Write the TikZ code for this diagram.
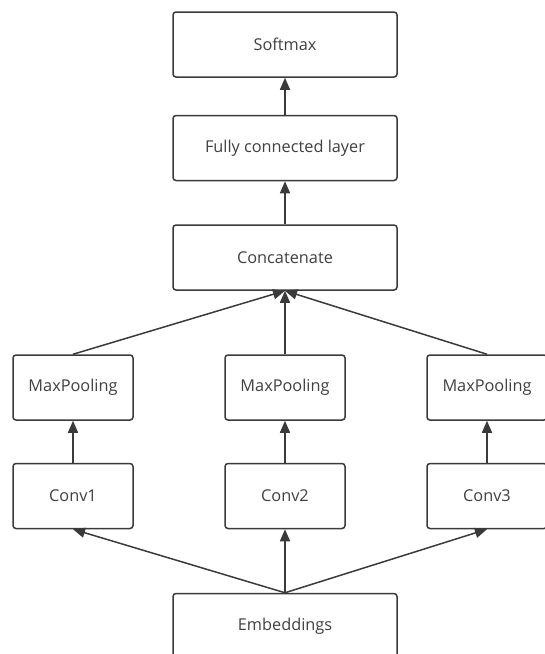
\documentclass[tikz,border=0pt]{standalone}
\usepackage{fontspec}
\setmainfont{Open Sans}
\usetikzlibrary{arrows.meta}
\definecolor{edgec}{HTML}{3A3A3A}
\definecolor{textc}{HTML}{404040}
\begin{document}
\begin{tikzpicture}[x=1pt,y=-1pt,
  box/.style={draw=edgec,line width=1.5pt,rounded corners=3pt,fill=white,
    text=textc,font=\fontsize{16.3}{19}\selectfont,inner sep=0pt},
  wide/.style={box,minimum width=224pt,minimum height=65pt},
  small/.style={box,minimum width=120pt,minimum height=65pt},
  conn/.style={draw=edgec,line width=1.5pt,-{Triangle[length=12pt,width=10pt]}}]
\useasboundingbox (0,0) rectangle (545,654);
\node[wide] (soft) at (285,44.5) {Softmax};
\node[wide] (fc) at (285,148) {Fully connected layer};
\node[wide] (cat) at (285,257.5) {Concatenate};
\node[small] (mp1) at (73,387.5) {MaxPooling};
\node[small] (mp2) at (285,387.5) {MaxPooling};
\node[small] (mp3) at (487,387.5) {MaxPooling};
\node[small] (c1) at (73,496) {Conv1};
\node[small] (c2) at (285,496) {Conv2};
\node[small] (c3) at (487,496) {Conv3};
\node[wide] (emb) at (285,626) {Embeddings};
\draw[conn] (fc.north) -- (soft.south);
\draw[conn] (cat.north) -- (fc.south);
\draw[conn] (mp1.north) -- (cat.south);
\draw[conn] (mp2.north) -- (cat.south);
\draw[conn] (mp3.north) -- (cat.south);
\draw[conn] (c1.north) -- (mp1.south);
\draw[conn] (c2.north) -- (mp2.south);
\draw[conn] (c3.north) -- (mp3.south);
\draw[conn] (emb.north) -- (c1.south);
\draw[conn] (emb.north) -- (c2.south);
\draw[conn] (emb.north) -- (c3.south);
\end{tikzpicture}
\end{document}
